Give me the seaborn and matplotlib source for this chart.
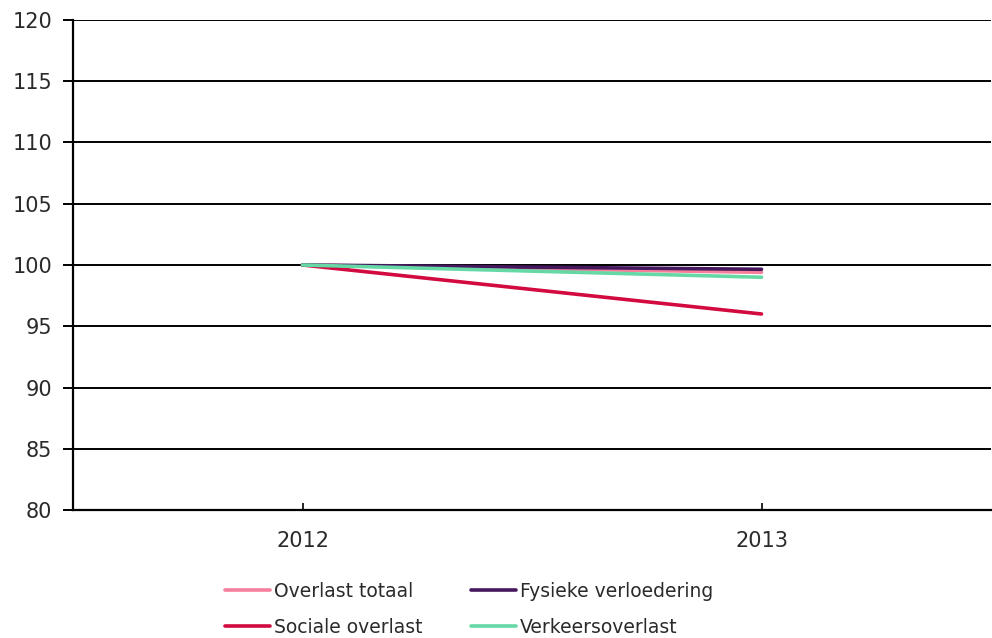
import matplotlib
matplotlib.use("Agg")
import matplotlib.pyplot as plt
import pandas as pd
import seaborn as sns

# Data (index, 2012 = 100)
years = ["2012", "2013"]
overlast_totaal = [100, 99.4]
sociale_overlast = [100, 96.0]
fysieke_verloedering = [100, 99.65]
verkeersoverlast = [100, 99.0]

series_names = ["Overlast totaal", "Sociale overlast", "Fysieke verloedering", "Verkeersoverlast"]
series_values = [overlast_totaal, sociale_overlast, fysieke_verloedering, verkeersoverlast]
colors = ["#F77F9C", "#D20A3F", "#45185E", "#66D8A6"]

rows = []
for name, vals in zip(series_names, series_values):
    for yr, v in zip(years, vals):
        rows.append({"year": yr, "value": v, "series": name})
df = pd.DataFrame(rows)

sns.set_style("white")
plt.rcParams["font.family"] = ["DejaVu Sans"]
text_color = "#2a2a2a"

fig = plt.figure(figsize=(9.92, 6.38), dpi=100)
ax = fig.add_axes([0.0736, 0.2006, 0.9254, 0.7681])

sns.lineplot(data=df, x="year", y="value", hue="series", hue_order=series_names,
             palette=colors, linewidth=2.6, ax=ax, legend=True)

ax.set_ylim(80, 120)
ax.set_yticks(range(80, 121, 5))
ax.set_xlim(-0.5, 1.5)
ax.set_xticks([0, 1])
ax.set_xticklabels(years)
ax.set_xlabel("")
ax.set_ylabel("")

ax.grid(axis="y", color="black", linewidth=1.4)
ax.set_axisbelow(True)
for s in ["top", "right"]:
    ax.spines[s].set_visible(False)
for s in ["left", "bottom"]:
    ax.spines[s].set_color("black")
    ax.spines[s].set_linewidth(1.6)

ax.tick_params(axis="y", direction="out", length=7, width=1.4, color="black",
               labelsize=15, labelcolor=text_color, pad=8, left=True)
ax.tick_params(axis="x", direction="in", length=5, width=1.2, color="black",
               labelsize=15, labelcolor=text_color, pad=15, bottom=True)

handles, labels = ax.get_legend_handles_labels()
ax.get_legend().remove()
leg = fig.legend(handles, labels, ncol=2, loc="upper left",
                 bbox_to_anchor=(0.2268, 0.088), bbox_transform=fig.transFigure,
                 frameon=False, fontsize=13.5, borderpad=0, borderaxespad=0,
                 handlelength=2.4, handletextpad=0.2,
                 columnspacing=2.6, labelspacing=0.9)
for t in leg.get_texts():
    t.set_color(text_color)
for line in leg.get_lines():
    line.set_linewidth(2.6)

fig.savefig("out.png", dpi=100)
